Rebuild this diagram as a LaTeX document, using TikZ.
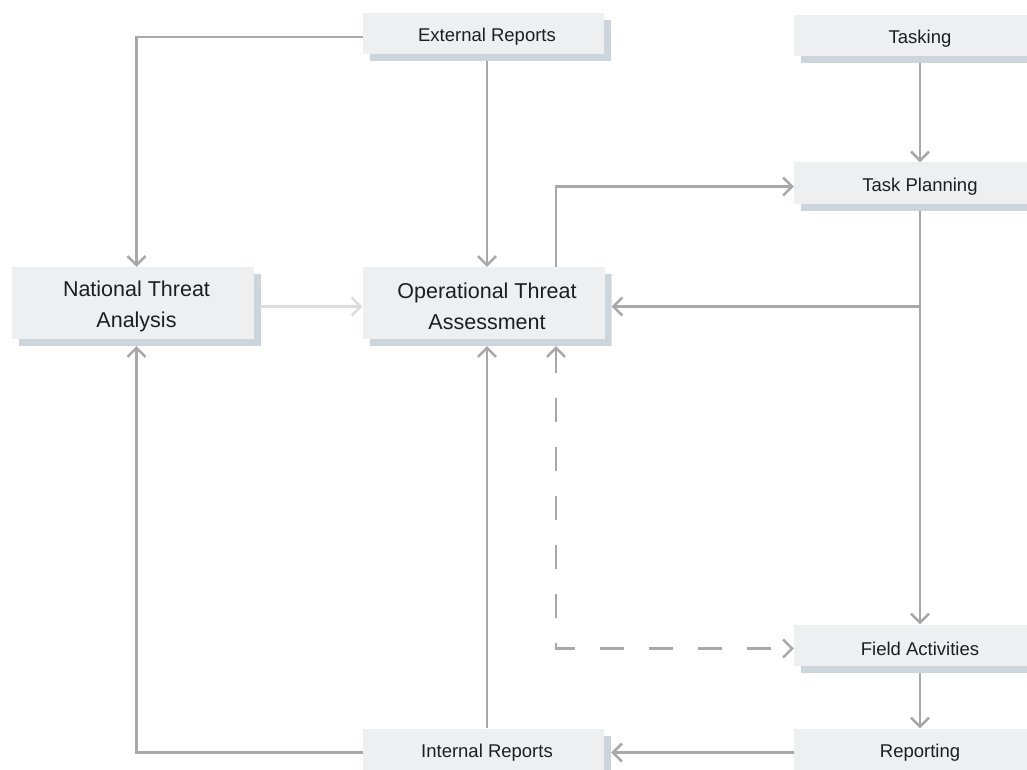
\documentclass[tikz,border=0pt]{standalone}
\usepackage{fontspec}
\setmainfont{Liberation Sans}
\usetikzlibrary{arrows.meta,calc}
\definecolor{cardc}{HTML}{EEEFF1}
\definecolor{shadowc}{HTML}{CCD4DC}
\definecolor{linec}{HTML}{A8A8A8}
\definecolor{lightc}{HTML}{DCDCDC}
\definecolor{txtc}{HTML}{1E1E1E}
\begin{document}
\begin{tikzpicture}[x=1pt,y=-1pt,
    card/.style={rectangle,fill=white,inner sep=0pt,text=txtc,
      path picture={
        \fill[shadowc]([shift={(7pt,-7pt)}]path picture bounding box.north west)rectangle(path picture bounding box.south east);
        \fill[cardc](path picture bounding box.north west)rectangle([shift={(-7pt,7pt)}]path picture bounding box.south east);
      }},
    small/.style={card,minimum width=248pt,minimum height=48pt,font=\fontsize{18.5}{22}\selectfont},
    wide/.style={small,minimum width=252pt},
    big/.style={card,minimum width=249pt,minimum height=79pt,align=center,font=\fontsize{21.5}{31.5}\selectfont},
    flow/.style={draw=linec,line width=2.5pt,->},
    >={Straight Barb[length=9pt,width=18pt]}]
    \clip(0,0)rectangle(1027,770);
    \fill[white](0,0)rectangle(1027,770);
    \node[small](ext)at(487,37){External Reports};
    \node[wide](task)at(920,39){Tasking};
    \node[wide](plan)at(920,186.5){Task Planning};
    \node[big](nta)at(136.5,306.5){National Threat\\Analysis};
    \node[big](ota)at(487,306.5){Operational Threat\\Assessment};
    \node[wide](field)at(920,648.5){Field Activities};
    \node[wide](rep)at(920,752.5){Reporting};
    \node[small](int)at(487,752.5){Internal Reports};
    \draw[flow](ext.west)-|(nta.north);
    \draw[flow](ext.south)--(ota.north);
    \draw[flow](task.south)--(plan.north);
    \draw[flow]([xshift=69pt]ota.north)|-(plan.west);
    \draw[flow](plan.south)--(field.north);
    \draw[flow](plan.south|-ota.east)--(ota.east);
    \draw[flow,draw=lightc](nta.east)--(ota.west);
    \draw[flow,<->,dash pattern=on 24pt off 25pt]([xshift=69pt]ota.south)|-(field.west);
    \draw[flow](field.south)--(rep.north);
    \draw[flow](rep.west)--(int.east);
    \draw[flow](int.north)--(ota.south);
    \draw[flow](int.west)-|(nta.south);
\end{tikzpicture}
\end{document}
